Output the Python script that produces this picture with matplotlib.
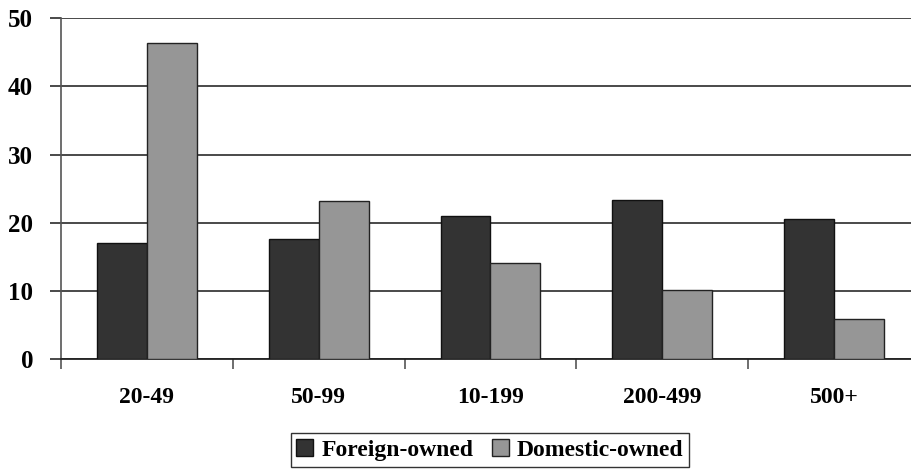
import matplotlib
matplotlib.use("Agg")
import matplotlib.pyplot as plt
import numpy as np

categories = ["20-49", "50-99", "10-199", "200-499", "500+"]
foreign_owned = [17.1, 17.6, 21.0, 23.4, 20.6]
domestic_owned = [46.3, 23.2, 14.1, 10.1, 5.9]
y_ticks = [0, 10, 20, 30, 40, 50]

plt.rcParams["font.family"] = ["Liberation Serif", "DejaVu Serif"]
plt.rcParams["font.weight"] = "bold"

fig = plt.figure(figsize=(9.12, 4.72), dpi=100)
# axes runs slightly past the right edge of the canvas
ax = fig.add_axes([61 / 912, (472 - 359.3) / 472, 859 / 912, 341.3 / 472])

x = np.arange(len(categories))
w = 0.29
ax.bar(x - w / 2, foreign_owned, width=w, color="#333333", edgecolor="#111111",
       linewidth=1.0, label="Foreign-owned", zorder=3)
ax.bar(x + w / 2, domestic_owned, width=w, color="#969696", edgecolor="#222222",
       linewidth=1.0, label="Domestic-owned", zorder=3)

ax.set_ylim(0, 50)
ax.set_xlim(-0.5, len(categories) - 0.5)
ax.set_yticks(y_ticks)
ax.set_yticklabels([str(t) for t in y_ticks], fontsize=18, fontweight="bold")
ax.yaxis.grid(True, color="#3a3a3a", linewidth=1.3, zorder=0)
ax.set_axisbelow(True)

ax.set_xticks(x)
ax.set_xticklabels(categories, fontsize=17, fontweight="bold")
ax.tick_params(axis="x", which="major", length=0, pad=20)
ax.set_xticks(np.arange(-0.5, len(categories) + 0.5, 1), minor=True)
ax.tick_params(axis="x", which="minor", length=7, width=1.2, color="#555555",
               direction="out")
ax.tick_params(axis="y", length=8, width=1.3, color="#3a3a3a", pad=12)

for side in ("top", "right"):
    ax.spines[side].set_visible(False)
ax.spines["left"].set_color("#555555")
ax.spines["left"].set_linewidth(1.2)
ax.spines["bottom"].set_color("#222222")
ax.spines["bottom"].set_linewidth(1.3)

leg = fig.legend(loc="center", bbox_to_anchor=(490 / 912, 1 - 450 / 472),
                 ncol=2, frameon=True, fancybox=False,
                 prop={"weight": "bold", "size": 17},
                 handlelength=0.7, handleheight=0.7, handletextpad=0.35,
                 columnspacing=0.8, borderpad=0.25, borderaxespad=0)
leg.get_frame().set_edgecolor("#000000")
leg.get_frame().set_linewidth(1.0)

fig.savefig("out.png", dpi=100)
